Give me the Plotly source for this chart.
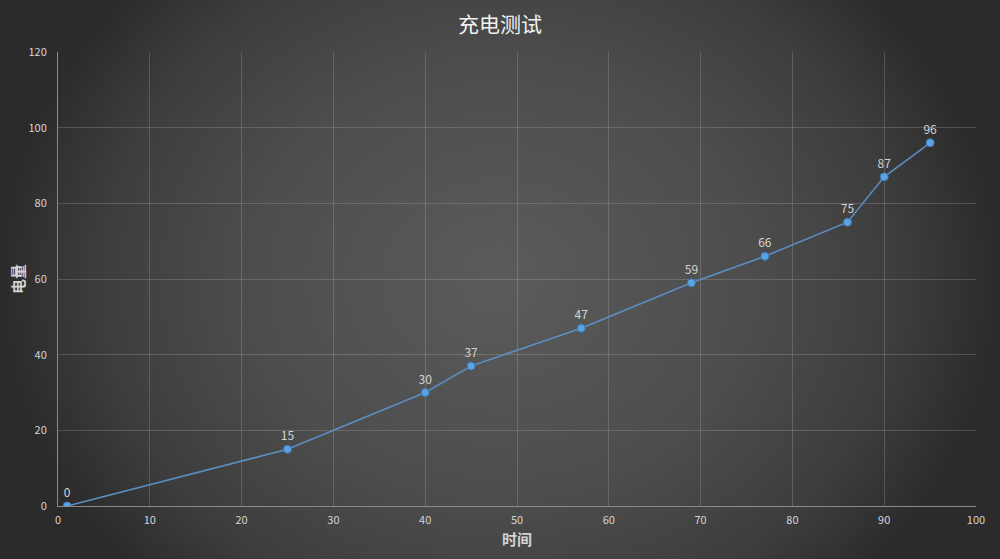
import plotly.graph_objs as go

# charging test readings
time_min = [1, 25, 40, 45, 57, 69, 77, 86, 90, 95]
charge = [0, 15, 30, 37, 47, 59, 66, 75, 87, 96]
labels = [str(v) for v in charge]

chart_title = '充电测试'
x_title = '时间'
y_title = '电量'

font_cn = 'Noto Sans CJK SC'
txt_color = '#d4d4d4'
grid_color = 'rgba(255,255,255,0.16)'

# rectangle (taller than the page) that carries the radial background gradient
bg = go.Scatter(x=[0, 1, 1, 0, 0], y=[-0.27, -0.27, 1.27, 1.27, -0.27],
                mode='lines', fill='toself',
                line=dict(width=0),
                fillgradient=dict(type='radial',
                                  colorscale=[[0, '#5b5b5b'], [0.5, '#4d4d4d'],
                                              [0.8, '#3d3d3d'], [1, '#2b2b2b']]),
                hoverinfo='skip', showlegend=False,
                xaxis='x', yaxis='y')

line = go.Scatter(x=time_min, y=charge,
                  mode='lines+markers+text',
                  text=labels,
                  textposition='top center',
                  textfont=dict(family=font_cn, size=12, color=txt_color),
                  line=dict(color='#5b8fc4', width=1.5),
                  marker=dict(size=8, color='#5ba3e6',
                              line=dict(color='#3f77aa', width=1)),
                  showlegend=False,
                  xaxis='x2', yaxis='y2')

layout = go.Layout(
    width=1000, height=559,
    margin=dict(l=0, r=0, t=0, b=0, autoexpand=False),
    paper_bgcolor='#2e2e2e',
    plot_bgcolor='rgba(0,0,0,0)',
    font=dict(family=font_cn, color=txt_color, size=11),
    title=dict(text=chart_title, x=0.5, xanchor='center',
               y=1 - 25 / 559, yanchor='middle',
               font=dict(family=font_cn, size=21, color='#f2f2f2')),
    xaxis=dict(domain=[0, 1], range=[0, 1], visible=False, fixedrange=True),
    yaxis=dict(domain=[0, 1], range=[0, 1], visible=False, fixedrange=True),
    xaxis2=dict(domain=[58 / 1000, 976 / 1000], anchor='y2',
                range=[0, 100], dtick=10,
                showgrid=True, gridcolor=grid_color, gridwidth=1,
                showline=True, linecolor='#8a8a8a', linewidth=1,
                zeroline=False, ticks='', ticklabelstandoff=4,
                tickfont=dict(size=11, color=txt_color),
                title=dict(text=x_title, standoff=8,
                           font=dict(family=font_cn, size=15, color=txt_color,
                                     weight='bold'))),
    yaxis2=dict(domain=[53 / 559, 1 - 52 / 559], anchor='x2',
                range=[0, 120], dtick=20,
                showgrid=True, gridcolor=grid_color, gridwidth=1,
                showline=True, linecolor='#8a8a8a', linewidth=1,
                zeroline=False, ticks='', ticklabelstandoff=8,
                tickfont=dict(size=11, color=txt_color),
                title=dict(text=y_title, standoff=0,
                           font=dict(family=font_cn, size=15, color=txt_color,
                                     weight='bold')))
)

fig = go.Figure(data=[bg, line], layout=layout)
fig.write_html('out.html', config={'displayModeBar': False},
               post_script="document.body.style.margin='0';")
